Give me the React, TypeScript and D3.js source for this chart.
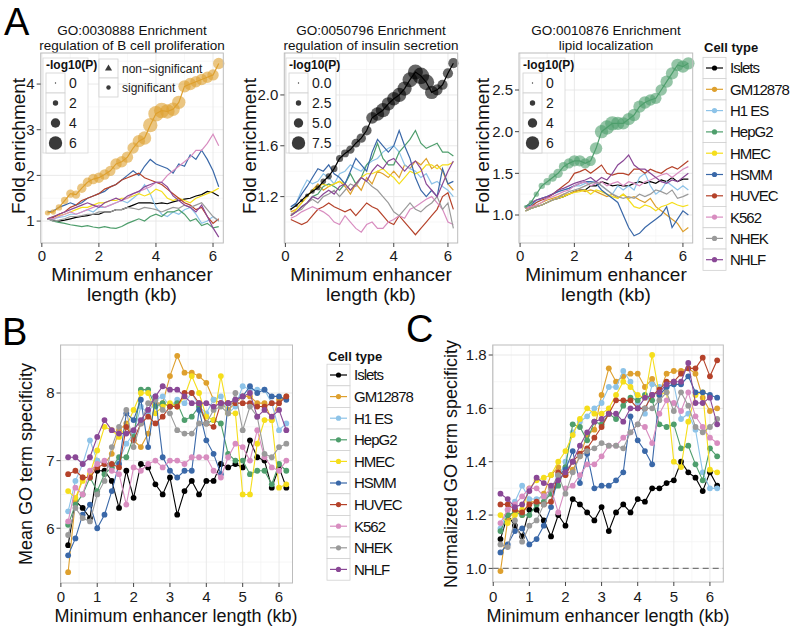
import React from "react";
import * as d3 from "d3";

const FONT = "'Liberation Sans', Arial, Helvetica, sans-serif";

const xKb = [0.2, 0.4, 0.6, 0.8, 1.0, 1.2, 1.4, 1.6, 1.8, 2.0, 2.2, 2.4, 2.6, 2.8, 3.0, 3.2, 3.4, 3.6, 3.8, 4.0, 4.2, 4.4, 4.6, 4.8, 5.0, 5.2, 5.4, 5.6, 5.8, 6.0, 6.2];

const cellTypes = ["Islets", "GM12878", "H1 ES", "HepG2", "HMEC", "HSMM", "HUVEC", "K562", "NHEK", "NHLF"];
const cellColors = ["#000000", "#DEA02E", "#8DC3E8", "#4E9E6C", "#F5DE1C", "#3A68A8", "#B5422A", "#D88DC0", "#9A9A9A", "#8A4896"];

// Panel A1: GO:0030888 (order = cellTypes)
const a1Values = [
  [1.05,1.02,1.0,1.02,1.05,1.08,1.1,1.12,1.15,1.15,1.2,1.2,1.25,1.25,1.3,1.35,1.4,1.4,1.4,1.38,1.4,1.38,1.42,1.45,1.48,1.5,1.55,1.58,1.65,1.62,1.55],
  [1.18,1.2,1.3,1.45,1.6,1.58,1.72,1.85,1.92,1.95,2.02,2.1,2.25,2.3,2.4,2.6,2.75,2.82,3.1,3.35,3.42,3.4,3.45,3.6,3.95,4.0,4.05,4.1,4.15,4.2,4.45],
  [1.05,1.05,1.08,1.1,1.15,1.15,1.2,1.25,1.2,1.3,1.3,1.35,1.4,1.45,1.4,1.5,1.6,1.8,1.6,1.3,1.15,1.1,1.2,1.15,1.25,1.3,1.15,0.95,1.0,1.1,1.0],
  [1.05,1.0,0.97,0.95,0.92,0.9,0.88,0.9,0.87,0.85,0.88,0.85,0.84,0.88,0.95,1.0,1.05,1.0,1.1,1.15,1.1,1.2,1.2,1.25,1.15,1.0,1.05,0.9,0.95,0.85,0.88],
  [1.05,1.1,1.12,1.15,1.2,1.25,1.3,1.3,1.35,1.4,1.4,1.45,1.45,1.5,1.5,1.55,1.6,1.55,1.6,1.7,1.65,1.5,1.45,1.5,1.45,1.4,1.5,1.55,1.6,1.65,1.72],
  [1.2,1.22,1.3,1.35,1.4,1.35,1.4,1.5,1.55,1.6,1.65,1.75,1.8,1.9,2.0,2.1,2.0,2.2,2.35,2.25,2.2,2.15,2.05,2.25,2.2,2.45,2.35,2.55,2.35,2.1,1.75],
  [1.05,1.08,1.15,1.2,1.3,1.35,1.45,1.5,1.55,1.6,1.7,1.75,1.8,1.9,1.95,2.0,2.05,1.95,1.9,1.85,1.8,1.7,1.6,1.5,1.4,1.35,1.25,1.3,1.1,0.95,1.05],
  [1.05,1.05,1.1,1.15,1.2,1.15,1.2,1.25,1.3,1.35,1.3,1.35,1.4,1.45,1.5,1.6,1.65,1.7,1.75,1.85,1.85,2.0,2.1,2.2,2.3,2.4,2.55,2.55,2.7,2.9,2.65],
  [1.05,1.0,1.02,1.05,1.1,1.1,1.12,1.15,1.15,1.2,1.2,1.2,1.25,1.25,1.3,1.28,1.25,1.3,1.28,1.25,1.2,1.25,1.3,1.28,1.35,1.3,1.35,1.4,1.25,1.1,1.0],
  [1.05,1.1,1.15,1.2,1.25,1.3,1.35,1.4,1.35,1.3,1.4,1.45,1.5,1.45,1.55,1.6,1.65,1.75,1.8,1.85,1.85,1.75,1.55,1.45,1.35,1.3,1.2,1.35,1.1,0.85,0.65],
];
const a1LogP = [2,2,2.5,3,3.5,3.5,4,4,4.5,4.5,4.5,4.5,5,5,5,5,5.5,6,6.5,7,7,6.5,6,6,5.5,5.5,5,5,5,5,5];

// Panel A2: GO:0050796
const a2Values = [
  [1.10,1.13,1.17,1.21,1.24,1.27,1.32,1.36,1.42,1.5,1.54,1.57,1.62,1.66,1.72,1.82,1.85,1.88,1.93,1.97,2.0,2.05,2.12,2.18,2.15,2.1,2.02,2.04,2.08,2.17,2.25],
  [1.08,1.1,1.15,1.2,1.25,1.3,1.25,1.28,1.3,1.32,1.28,1.22,1.3,1.25,1.35,1.3,1.4,1.38,1.35,1.4,1.35,1.45,1.42,1.48,1.45,1.5,1.42,1.45,1.4,1.3,1.25],
  [1.1,1.15,1.25,1.33,1.3,1.32,1.38,1.35,1.3,1.38,1.4,1.45,1.42,1.4,1.45,1.48,1.5,1.55,1.58,1.6,1.55,1.45,1.42,1.4,1.35,1.38,1.3,1.32,1.28,1.25,1.2],
  [1.05,1.08,1.12,1.15,1.2,1.22,1.28,1.3,1.28,1.25,1.3,1.38,1.3,1.35,1.45,1.5,1.62,1.5,1.45,1.45,1.55,1.6,1.65,1.72,1.62,1.58,1.6,1.62,1.55,1.55,1.52],
  [1.05,1.1,1.15,1.2,1.25,1.28,1.3,1.28,1.3,1.32,1.3,1.25,1.3,1.35,1.38,1.38,1.4,1.42,1.38,1.35,1.3,1.35,1.4,1.38,1.4,1.45,1.45,1.42,1.45,1.45,1.47],
  [1.12,1.15,1.22,1.28,1.35,1.42,1.4,1.45,1.38,1.35,1.3,1.4,1.5,1.45,1.4,1.55,1.65,1.6,1.55,1.6,1.72,1.6,1.5,1.35,1.25,1.2,1.25,1.2,1.42,1.3,1.32],
  [1.02,1.0,0.98,1.0,1.05,1.1,1.12,1.15,1.12,1.1,1.08,1.1,1.05,1.1,1.15,1.12,1.1,1.05,1.0,0.98,1.05,1.0,0.95,0.9,0.95,1.0,1.05,1.1,1.2,1.23,1.1],
  [1.03,1.05,1.08,1.1,1.12,1.1,1.08,1.05,1.0,0.98,1.05,1.0,0.95,0.92,0.98,1.0,0.95,0.95,1.0,1.02,1.05,1.03,1.1,1.12,1.15,1.18,1.2,1.15,1.1,1.0,0.98],
  [1.06,1.08,1.1,1.15,1.18,1.15,1.2,1.22,1.25,1.2,1.25,1.3,1.28,1.35,1.32,1.28,1.25,1.2,1.15,1.08,1.05,1.1,1.15,1.1,1.08,1.12,1.15,1.2,1.1,1.15,0.95],
  [1.05,1.08,1.12,1.15,1.2,1.18,1.22,1.25,1.22,1.28,1.3,1.25,1.3,1.35,1.32,1.4,1.45,1.42,1.48,1.5,1.45,1.4,1.45,1.48,1.42,1.3,1.25,1.2,1.3,1.4,1.48],
];
const a2LogP = [0.5,1,1.2,1.5,2,2.3,2.6,3,3.3,3.6,4,4.3,4.6,5,5.3,6.5,7.5,8,7.5,7.5,8,8,8.5,8.5,9.5,9,7.5,6,5.5,5.5,5.5];

// Panel A3: GO:0010876
const a3Values = [
  [1.05,1.08,1.1,1.12,1.15,1.18,1.2,1.22,1.25,1.28,1.3,1.3,1.35,1.35,1.4,1.38,1.35,1.36,1.35,1.35,1.38,1.4,1.38,1.4,1.38,1.42,1.4,1.45,1.4,1.43,1.43],
  [1.08,1.1,1.12,1.15,1.18,1.2,1.22,1.25,1.25,1.28,1.3,1.28,1.3,1.28,1.25,1.22,1.25,1.2,1.25,1.2,1.22,1.18,1.15,1.2,1.1,1.05,1.0,0.95,0.9,0.8,0.85],
  [1.1,1.12,1.15,1.2,1.22,1.25,1.28,1.3,1.32,1.35,1.35,1.38,1.4,1.4,1.35,1.3,1.25,1.35,1.3,1.35,1.3,1.45,1.5,1.35,1.25,1.3,1.4,1.35,1.3,1.35,1.3],
  [1.1,1.15,1.25,1.35,1.4,1.45,1.5,1.58,1.62,1.65,1.65,1.62,1.65,1.8,2.0,2.05,2.1,2.1,2.1,2.15,2.2,2.3,2.35,2.38,2.4,2.5,2.6,2.7,2.8,2.78,2.82],
  [1.05,1.08,1.1,1.12,1.15,1.18,1.2,1.22,1.25,1.27,1.28,1.3,1.25,1.3,1.28,1.25,1.22,1.2,1.25,1.18,1.1,1.08,1.12,1.1,1.05,1.1,1.12,1.15,1.12,1.1,1.12],
  [1.1,1.12,1.18,1.2,1.22,1.25,1.28,1.3,1.32,1.35,1.38,1.4,1.4,1.38,1.3,1.25,1.2,1.15,1.0,0.85,0.75,0.78,0.85,0.9,0.95,1.0,1.1,0.85,0.95,1.05,1.0],
  [1.08,1.1,1.15,1.18,1.2,1.25,1.3,1.35,1.4,1.5,1.52,1.55,1.5,1.55,1.6,1.5,1.48,1.5,1.5,1.48,1.55,1.55,1.5,1.55,1.52,1.5,1.55,1.58,1.55,1.6,1.65],
  [1.08,1.1,1.12,1.15,1.2,1.22,1.25,1.28,1.3,1.35,1.38,1.4,1.35,1.38,1.4,1.35,1.38,1.4,1.35,1.4,1.38,1.35,1.4,1.42,1.45,1.48,1.5,1.45,1.5,1.55,1.58],
  [1.05,1.08,1.1,1.12,1.15,1.18,1.2,1.25,1.28,1.3,1.32,1.35,1.38,1.4,1.35,1.3,1.25,1.22,1.2,1.22,1.2,1.25,1.22,1.25,1.3,1.28,1.25,1.3,1.2,1.22,1.25],
  [1.1,1.15,1.18,1.2,1.22,1.25,1.3,1.32,1.35,1.38,1.4,1.42,1.45,1.4,1.45,1.42,1.5,1.6,1.65,1.72,1.6,1.55,1.55,1.5,1.45,1.4,1.38,1.42,1.4,1.45,1.5],
];
const a3LogP = [1,1.5,2,2.5,3,3.5,4,4,4.5,5,5,4.5,4.5,5.5,6,6.5,6.5,6,5.5,5.5,5.5,5.5,5.5,5,5,5,5.5,5.5,5.5,5.5,5.5];

// Panel B: mean GO term specificity
const bValues = [
  [5.75,6.4,6.3,6.15,6.85,6.85,6.7,6.3,6.85,6.45,6.95,6.9,6.65,6.5,6.75,6.2,6.55,6.7,6.5,6.7,6.7,6.95,6.9,6.95,6.9,7.3,7.05,7.0,6.6,6.9,6.6],
  [5.35,6.4,6.75,6.75,7.0,6.95,7.1,7.45,7.55,7.3,7.2,7.4,7.85,7.85,8.25,8.55,8.3,8.3,8.25,8.15,7.9,7.85,7.75,7.85,7.95,7.95,7.85,7.85,7.6,7.9,7.95],
  [6.25,6.7,6.95,7.3,7.0,6.95,6.9,7.0,7.25,7.4,7.8,7.7,7.9,7.95,7.8,7.9,7.85,8.0,7.8,7.7,7.9,7.95,7.7,7.8,8.1,8.05,8.05,8.05,7.85,7.45,7.55],
  [6.05,6.35,6.5,6.75,6.55,6.8,6.9,7.05,7.05,7.35,8.05,8.05,7.8,7.85,7.8,7.85,7.6,7.65,7.8,7.55,7.6,7.55,7.1,7.0,7.0,6.8,6.85,6.85,6.65,6.95,6.85],
  [6.55,6.45,6.7,6.8,7.15,7.5,7.45,7.35,7.5,7.75,8.0,8.0,7.7,7.8,7.85,7.8,7.95,8.25,8.0,7.65,7.6,8.25,7.7,7.7,6.5,6.5,7.25,7.6,7.6,6.6,6.65],
  [5.6,5.85,6.2,6.35,6.0,6.2,6.55,6.95,7.7,7.6,7.9,7.2,7.95,7.05,6.85,6.75,6.85,6.85,7.75,7.3,7.1,6.8,7.85,7.9,7.95,8.1,8.0,8.05,7.95,7.95,7.9],
  [6.8,6.85,6.75,6.75,6.9,6.95,6.95,6.9,7.5,7.3,7.55,7.65,7.55,7.65,7.8,7.8,8.0,8.0,7.85,7.55,7.5,7.85,7.85,7.85,7.85,7.85,7.8,7.8,7.85,7.85,7.95],
  [6.1,6.6,6.5,6.85,6.95,7.0,6.85,6.8,6.35,6.9,6.85,6.95,7.0,6.9,7.0,7.0,6.95,7.05,7.05,7.05,6.85,6.75,7.05,7.25,7.2,7.0,7.45,7.05,6.9,6.85,7.0],
  [5.9,6.3,6.15,6.1,6.5,6.7,7.2,7.5,7.75,7.2,7.55,7.85,7.9,7.75,7.7,7.45,7.4,7.4,7.55,7.55,7.75,7.8,7.7,8.0,7.45,7.8,7.65,7.1,7.05,7.2,7.25],
  [7.05,7.05,6.95,7.05,7.35,7.6,7.45,7.4,7.4,7.45,7.6,7.75,7.95,8.1,8.05,8.05,7.95,7.85,7.85,7.85,7.8,7.85,7.85,7.9,7.95,8.0,7.65,7.75,7.65,7.75,7.45],
];

// Panel C: normalized GO term specificity
const cValues = [
  [1.11,1.2,1.16,1.12,1.22,1.22,1.18,1.12,1.2,1.16,1.26,1.24,1.21,1.18,1.23,1.14,1.21,1.24,1.21,1.26,1.25,1.3,1.3,1.32,1.33,1.4,1.36,1.34,1.29,1.36,1.31],
  [0.99,1.18,1.22,1.2,1.25,1.25,1.28,1.35,1.38,1.35,1.37,1.42,1.5,1.52,1.65,1.75,1.7,1.72,1.73,1.73,1.68,1.71,1.66,1.73,1.74,1.74,1.75,1.73,1.64,1.59,1.6],
  [1.15,1.22,1.25,1.31,1.26,1.26,1.27,1.28,1.34,1.4,1.51,1.55,1.57,1.6,1.62,1.68,1.68,1.74,1.7,1.62,1.58,1.69,1.68,1.68,1.69,1.56,1.58,1.52,1.36,1.3,1.3],
  [1.14,1.2,1.21,1.2,1.2,1.24,1.25,1.28,1.31,1.38,1.54,1.53,1.48,1.55,1.54,1.58,1.56,1.61,1.64,1.63,1.65,1.63,1.54,1.53,1.54,1.45,1.46,1.39,1.33,1.45,1.42],
  [1.2,1.17,1.2,1.22,1.3,1.33,1.34,1.35,1.4,1.44,1.5,1.56,1.6,1.58,1.58,1.6,1.65,1.7,1.68,1.65,1.64,1.8,1.65,1.66,1.4,1.38,1.55,1.65,1.66,1.37,1.36],
  [1.06,1.09,1.14,1.15,1.09,1.11,1.16,1.23,1.35,1.37,1.44,1.32,1.43,1.3,1.31,1.31,1.33,1.36,1.57,1.48,1.44,1.39,1.65,1.68,1.69,1.69,1.72,1.66,1.66,1.65,1.64],
  [1.24,1.24,1.22,1.21,1.24,1.25,1.24,1.25,1.36,1.35,1.4,1.43,1.45,1.49,1.53,1.58,1.63,1.63,1.63,1.6,1.6,1.65,1.67,1.7,1.7,1.73,1.75,1.75,1.79,1.72,1.78],
  [1.17,1.22,1.24,1.27,1.3,1.3,1.27,1.3,1.21,1.3,1.31,1.35,1.39,1.39,1.42,1.46,1.46,1.49,1.51,1.54,1.53,1.47,1.58,1.63,1.62,1.59,1.66,1.57,1.53,1.49,1.47],
  [1.09,1.08,1.18,1.1,1.16,1.18,1.24,1.3,1.35,1.28,1.36,1.42,1.44,1.45,1.47,1.46,1.46,1.45,1.51,1.54,1.6,1.6,1.63,1.66,1.59,1.66,1.61,1.53,1.51,1.53,1.56],
  [1.28,1.26,1.23,1.24,1.29,1.34,1.32,1.31,1.33,1.36,1.4,1.46,1.51,1.55,1.56,1.58,1.58,1.55,1.6,1.6,1.64,1.65,1.66,1.69,1.7,1.7,1.77,1.62,1.62,1.64,1.54],
];

const aXTicks = [0, 2, 4, 6];
const bcXTicks = [0, 1, 2, 3, 4, 5, 6];
const a1YTicks = [1, 2, 3, 4];
const a2YTicks = [1.2, 1.6, 2.0];
const a3YTicks = [1.0, 1.5, 2.0, 2.5];
const bYTicks = [6, 7, 8];
const cYTicks = [1.0, 1.2, 1.4, 1.6, 1.8];
const a1SizeKeys = [0, 2, 4, 6];
const a2SizeKeys = [0, 2.5, 5, 7.5];
const a3SizeKeys = [0, 2, 4, 6];

type PanelProps = {
  left: number; right: number; top: number; bottom: number;
  xDomain: [number, number]; yDomain: [number, number];
  xTicks: number[]; xMinor: number[];
  yTicks: number[]; yMinor: number[]; yDigits: number;
  values: number[][];
  hi?: number; logP?: number[]; sizeMax?: number;
  markers?: boolean; refLine?: number; tickLabelGap: number;
};

function Panel(p: PanelProps) {
  const x = d3.scaleLinear().domain(p.xDomain).range([p.left, p.right]);
  const y = d3.scaleLinear().domain(p.yDomain).range([p.bottom, p.top]);
  const line = d3.line<number>().x((_, i) => x(xKb[i])).y((v) => y(v));
  const rScale = d3.scaleLinear().domain([0, p.sizeMax || 6]).range([0.7, 6.7]);
  const order = cellTypes.map((_, i) => i).filter((i) => i !== p.hi);
  if (p.hi !== undefined) order.push(p.hi);
  const fmt = d3.format(`.${p.yDigits}f`);
  return (
    <g>
      <rect x={p.left} y={p.top} width={p.right - p.left} height={p.bottom - p.top} fill="#fff" />
      {p.xMinor.map((v) => (
        <line key={"xm" + v} x1={x(v)} x2={x(v)} y1={p.top} y2={p.bottom} stroke="#f4f4f4" strokeWidth={0.7} />
      ))}
      {p.yMinor.map((v) => (
        <line key={"ym" + v} x1={p.left} x2={p.right} y1={y(v)} y2={y(v)} stroke="#f4f4f4" strokeWidth={0.7} />
      ))}
      {p.xTicks.map((v) => (
        <line key={"xg" + v} x1={x(v)} x2={x(v)} y1={p.top} y2={p.bottom} stroke="#e6e6e6" strokeWidth={0.9} />
      ))}
      {p.yTicks.map((v) => (
        <line key={"yg" + v} x1={p.left} x2={p.right} y1={y(v)} y2={y(v)} stroke="#e6e6e6" strokeWidth={0.9} />
      ))}
      {p.refLine !== undefined && (
        <line x1={p.left} x2={p.right} y1={y(p.refLine)} y2={y(p.refLine)} stroke="#777" strokeWidth={1.2} strokeDasharray="6,4" />
      )}
      {order.map((i) => (
        <g key={cellTypes[i]}>
          <path d={line(p.values[i]) || ""} fill="none" stroke={cellColors[i]} strokeWidth={p.markers ? 1.1 : 1.2} />
          {p.markers &&
            p.values[i].map((v, j) => (
              <circle key={j} cx={x(xKb[j])} cy={y(v)} r={2.9} fill={cellColors[i]} />
            ))}
        </g>
      ))}
      {p.hi !== undefined && p.logP &&
        p.values[p.hi].map((v, j) => (
          <circle key={"hc" + j} cx={x(xKb[j])} cy={y(v)} r={rScale(p.logP![j])} fill={cellColors[p.hi!]} fillOpacity={0.6} />
        ))}
      <rect x={p.left} y={p.top} width={p.right - p.left} height={p.bottom - p.top} fill="none" stroke="#bcbcbc" strokeWidth={1} />
      {p.xTicks.map((v) => (
        <g key={"xt" + v}>
          <line x1={x(v)} x2={x(v)} y1={p.bottom} y2={p.bottom + 4} stroke="#444" strokeWidth={1} />
          <text x={x(v)} y={p.bottom + p.tickLabelGap} textAnchor="middle" fontSize={15} fill="#1a1a1a">{v}</text>
        </g>
      ))}
      {p.yTicks.map((v) => (
        <g key={"yt" + v}>
          <line x1={p.left - 4} x2={p.left} y1={y(v)} y2={y(v)} stroke="#444" strokeWidth={1} />
          <text x={p.left - 6} y={y(v)} dy="0.36em" textAnchor="end" fontSize={15} fill="#1a1a1a">{fmt(v)}</text>
        </g>
      ))}
    </g>
  );
}

function SizeLegend({ x, y, keys, labels, sizeMax }: { x: number; y: number; keys: number[]; labels: string[]; sizeMax: number }) {
  const rScale = d3.scaleLinear().domain([0, sizeMax]).range([0.7, 6.7]);
  const h = 20;
  return (
    <g>
      <rect x={x - 3} y={y} width={labels[0].length > 1 ? 50 : 45} height={95} fill="#fff" stroke="#d8d8d8" strokeWidth={0.8} />
      <text x={x} y={y + 11} fontSize={12} fontWeight="bold" fill="#111">-log10(P)</text>
      {keys.map((k, i) => {
        const cy = y + 25 + i * h;
        return (
          <g key={k}>
            <rect x={x} y={cy - h / 2} width={19} height={h} fill="#fff" stroke="#d0d0d0" strokeWidth={0.8} />
            <circle cx={x + 9.5} cy={cy} r={rScale(k)} fill="#3a3a3a" />
            <text x={x + 23} y={cy} dy="0.36em" fontSize={14} fill="#1a1a1a">{labels[i]}</text>
          </g>
        );
      })}
    </g>
  );
}

function ShapeLegend({ x, y }: { x: number; y: number }) {
  const tri = d3.symbol().type(d3.symbolTriangle).size(22)();
  return (
    <g>
      <rect x={x} y={y} width={19} height={19} fill="#fff" stroke="#d0d0d0" strokeWidth={0.8} />
      <rect x={x} y={y + 19} width={19} height={19} fill="#fff" stroke="#d0d0d0" strokeWidth={0.8} />
      <path d={tri || ""} transform={`translate(${x + 9.5},${y + 9.5})`} fill="#3a3a3a" />
      <circle cx={x + 9.5} cy={y + 28.5} r={2.2} fill="#3a3a3a" />
      <text x={x + 23} y={y + 9.5} dy="0.36em" fontSize={12} fill="#1a1a1a">non−significant</text>
      <text x={x + 23} y={y + 28.5} dy="0.36em" fontSize={12} fill="#1a1a1a">significant</text>
    </g>
  );
}

function CellLegend({ x, titleY, firstY, step }: { x: number; titleY: number; firstY: number; step: number }) {
  return (
    <g>
      <text x={x + 1} y={titleY} fontSize={13} fontWeight="bold" fill="#111">Cell type</text>
      {cellTypes.map((c, i) => {
        const cy = firstY + i * step;
        return (
          <g key={c}>
            <rect x={x} y={cy - step / 2} width={23} height={step} fill="#fff" stroke="#d0d0d0" strokeWidth={0.8} />
            <line x1={x + 3} x2={x + 20} y1={cy} y2={cy} stroke={cellColors[i]} strokeWidth={1.2} />
            <circle cx={x + 11.5} cy={cy} r={2.6} fill={cellColors[i]} />
            <text x={x + 27} y={cy} dy="0.36em" fontSize={15} letterSpacing={-1} fill="#111">{c}</text>
          </g>
        );
      })}
    </g>
  );
}

function ATitle({ cx, l1, l2 }: { cx: number; l1: string; l2: string }) {
  return (
    <g fontSize={13.5} fill="#111" textAnchor="middle">
      <text x={cx} y={35}>{l1}</text>
      <text x={cx} y={50}>{l2}</text>
    </g>
  );
}

function AXTitle({ cx }: { cx: number }) {
  return (
    <g fontSize={19} fill="#111" textAnchor="middle">
      <text x={cx} y={281}>Minimum enhancer</text>
      <text x={cx} y={301}>length (kb)</text>
    </g>
  );
}

function YTitle({ x, cy, text, size }: { x: number; cy: number; text: string; size: number }) {
  return (
    <text transform={`translate(${x},${cy}) rotate(-90)`} textAnchor="middle" fontSize={size} fill="#111">{text}</text>
  );
}

export default function App() {
  const aX: [number, number] = [-0.04, 6.36];
  return (
    <svg width={793} height={627} style={{ position: "absolute", left: 0, top: 0, background: "#fff" }} fontFamily={FONT}>
      <rect x={0} y={0} width={793} height={627} fill="#fff" />
      <text x={4} y={35} fontSize={38} fill="#000">A</text>
      <text x={2} y={345} fontSize={38} fill="#000">B</text>
      <text x={406} y={342} fontSize={38} fill="#000">C</text>

      <ATitle cx={132} l1="GO:0030888 Enrichment" l2="regulation of B cell proliferation" />
      <ATitle cx={371} l1="GO:0050796 Enrichment" l2="regulation of insulin secretion" />
      <ATitle cx={606} l1="GO:0010876 Enrichment" l2="lipid localization" />

      <Panel left={40.7} right={223.3} top={53} bottom={243} xDomain={aX} yDomain={[0.52, 4.68]}
        xTicks={aXTicks} xMinor={[1, 3, 5]} yTicks={a1YTicks} yMinor={[1.5, 2.5, 3.5, 4.5]} yDigits={0}
        values={a1Values} hi={1} logP={a1LogP} sizeMax={6} tickLabelGap={18} />
      <Panel left={284.3} right={457.7} top={53} bottom={243} xDomain={aX} yDomain={[0.835, 2.33]}
        xTicks={aXTicks} xMinor={[1, 3, 5]} yTicks={a2YTicks} yMinor={[1.0, 1.4, 1.8, 2.2]} yDigits={1}
        values={a2Values} hi={0} logP={a2LogP} sizeMax={7.5} tickLabelGap={18} />
      <Panel left={519} right={692.7} top={53} bottom={243} xDomain={aX} yDomain={[0.664, 2.944]}
        xTicks={aXTicks} xMinor={[1, 3, 5]} yTicks={a3YTicks} yMinor={[0.75, 1.25, 1.75, 2.25, 2.75]} yDigits={1}
        values={a3Values} hi={3} logP={a3LogP} sizeMax={6} tickLabelGap={18} />

      <SizeLegend x={46} y={58} keys={a1SizeKeys} labels={["0", "2", "4", "6"]} sizeMax={6} />
      <ShapeLegend x={99} y={59} />
      <SizeLegend x={289} y={58} keys={a2SizeKeys} labels={["0.0", "2.5", "5.0", "7.5"]} sizeMax={7.5} />
      <SizeLegend x={523} y={58} keys={a3SizeKeys} labels={["0", "2", "4", "6"]} sizeMax={6} />

      <YTitle x={25} cy={146} text="Fold enrichment" size={19} />
      <YTitle x={256} cy={146} text="Fold enrichment" size={19} />
      <YTitle x={489} cy={146} text="Fold enrichment" size={19} />
      <AXTitle cx={132} />
      <AXTitle cx={371} />
      <AXTitle cx={606} />

      <CellLegend x={703} titleY={52} firstY={68} step={21.3} />

      <Panel left={60.5} right={292.5} top={345} bottom={583} xDomain={[-0.01, 6.37]} yDomain={[5.19, 8.71]}
        xTicks={bcXTicks} xMinor={[0.5, 1.5, 2.5, 3.5, 4.5, 5.5]} yTicks={bYTicks} yMinor={[5.5, 6.5, 7.5, 8.5]} yDigits={0}
        values={bValues} markers tickLabelGap={18.5} />
      <YTitle x={32} cy={464} text="Mean GO term specificity" size={18} />
      <text x={176} y={622} textAnchor="middle" fontSize={18} fill="#111">Minimum enhancer length (kb)</text>
      <CellLegend x={327} titleY={361} firstY={375} step={21.6} />

      <Panel left={492.7} right={723.3} top={345} bottom={582} xDomain={[-0.015, 6.37]} yDomain={[0.949, 1.8375]}
        xTicks={bcXTicks} xMinor={[0.5, 1.5, 2.5, 3.5, 4.5, 5.5]} yTicks={cYTicks} yMinor={[1.1, 1.3, 1.5, 1.7]} yDigits={1}
        values={cValues} markers refLine={1.0} tickLabelGap={19.5} />
      <YTitle x={457} cy={464} text="Normalized GO term specificity" size={18} />
      <text x={608} y={622} textAnchor="middle" fontSize={18} fill="#111">Minimum enhancer length (kb)</text>
    </svg>
  );
}
